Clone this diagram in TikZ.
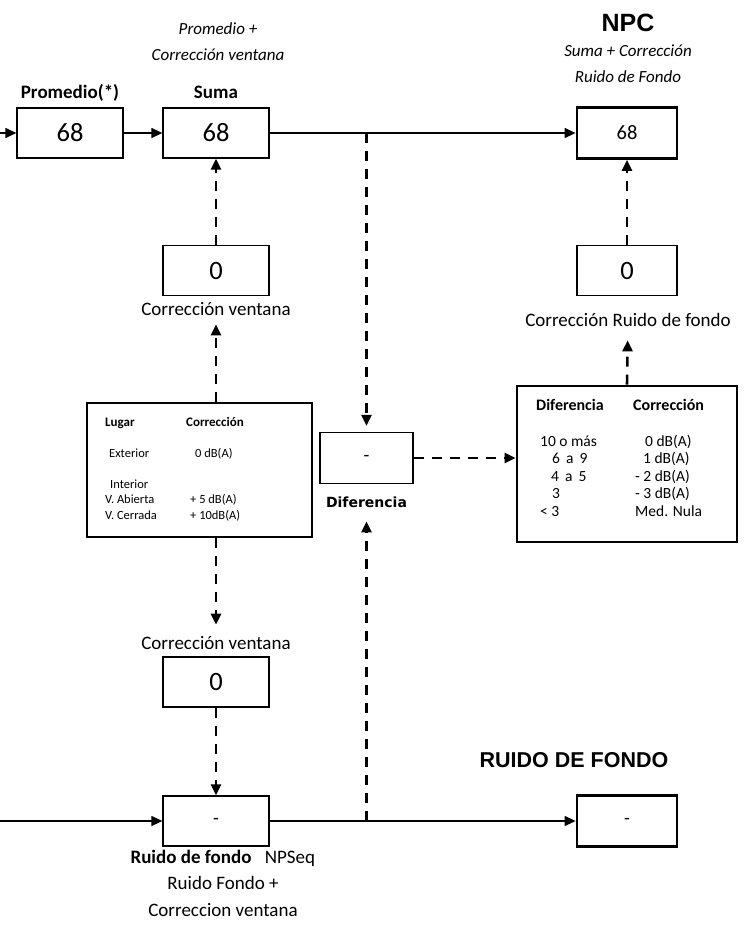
\documentclass[tikz,border=0pt]{standalone}
\usepackage{fontspec}
\setmainfont{Carlito}
\newfontfamily\arialfont{Liberation Sans}
\newfontfamily\verdanafont{DejaVu Sans}
\usetikzlibrary{positioning, arrows.meta}

\begin{document}
\begin{tikzpicture}[
        x=1pt, y=-1pt,
        font=\fontsize{19}{22}\selectfont,
        caja/.style={rectangle, draw, line width=1.3pt, minimum width=106pt, minimum height=50pt, inner sep=0pt, font=\fontsize{26.5}{28}\selectfont},
        cajag/.style={caja, line width=2.8pt, minimum width=100pt, minimum height=51pt, font=\fontsize{20.5}{24}\selectfont},
        tabla/.style={rectangle, draw, line width=2.8pt, inner sep=0pt},
        etiq/.style={anchor=base, inner sep=1pt, font=\fontsize{19}{22}\selectfont},
        titulo/.style={etiq, font=\fontsize{19}{22}\selectfont\bfseries},
        nota/.style={anchor=base, inner sep=1pt, align=center, font=\fontsize{17}{26.5}\selectfont\itshape},
        grande/.style={anchor=base, inner sep=1pt, font=\arialfont\bfseries\fontsize{25}{28}\selectfont},
        celda/.style={anchor=base west, inner sep=0pt, font=\fontsize{12.5}{14}\selectfont},
        celdab/.style={celda, font=\fontsize{13}{14}\selectfont\bfseries},
        fila/.style={anchor=base west, inner sep=0pt, font=\fontsize{15.5}{17}\selectfont},
        filab/.style={fila, font=\fontsize{16}{17}\selectfont\bfseries},
        flecha/.style={-{Triangle[length=11pt, width=10pt]}, line width=1.3pt},
        flechad/.style={flecha, line width=2.6pt, dash pattern=on 10pt off 8pt}
    ]

    \useasboundingbox (0,0) rectangle (744,925);

    % fila superior
    \coordinate (entradaA) at (0,133);
    \node (prom) [caja] at (70,133) {68};
    \node (suma) [caja] at (216,133) {68};
    \node (npc) [cajag] at (627,133) {68};
    \node (promT) [titulo] at (70,99) {Promedio(*)};
    \node (sumaT) [titulo] at (216,99) {Suma};
    \node (sumaN) [nota] at (218,61) {Promedio +\\Corrección ventana};
    \node (npcT) [grande] at (628,32) {NPC};
    \node (npcN) [nota] at (628,83) {Suma + Corrección\\Ruido de Fondo};

    % correcciones
    \node (cv1) [caja] at (216,270.5) {0};
    \node (cv1l) [etiq] at (216,315) {Corrección ventana};
    \node (crf) [caja, minimum width=100pt] at (627,270.5) {0};
    \node (crfl) [etiq] at (628,326) {Corrección Ruido de fondo};

    % tabla lugar
    \node (tlugar) [tabla, minimum width=225pt, minimum height=134pt] at (199.5,470) {};
    \node (lugH) [celdab] at (105,426) {Lugar};
    \node (corH) [celdab] at (186,426) {Corrección};
    \node (lugE) [celda] at (109,457) {Exterior};
    \node (corE) [celda] at (195,457) {0 dB(A)};
    \node (lugI) [celda] at (110,488) {Interior};
    \node (lugA) [celda] at (105,503) {V. Abierta};
    \node (corA) [celda] at (190,503) {+ 5 dB(A)};
    \node (lugC) [celda] at (105,519) {V. Cerrada};
    \node (corC) [celda] at (190,519) {+ 10dB(A)};

    % diferencia
    \node (dif) [caja, minimum width=93pt, minimum height=51pt, font=\fontsize{19}{22}\selectfont] at (366.5,458) {-};
    \node (difl) [anchor=base, inner sep=1pt, font=\verdanafont\bfseries\fontsize{14}{16}\selectfont] at (366.5,507) {Diferencia};

    % tabla diferencia
    \node (tdif) [tabla, minimum width=220pt, minimum height=156pt] at (627,464) {};
    \node (difH) [filab] at (536,410) {Diferencia};
    \node (cdfH) [filab] at (633,410) {Corrección};
    \node (d1) [fila] at (540,446) {10 o más};
    \node (c1) [fila] at (645,446) {0 dB(A)};
    \node (d2) [fila] at (552,463.5) {6\, a\, 9};
    \node (c2) [fila] at (643,463.5) {1 dB(A)};
    \node (d3) [fila] at (551,481) {4\, a\, 5};
    \node (c3) [fila] at (635,481) {- 2 dB(A)};
    \node (d4) [fila] at (552,498.5) {3};
    \node (c4) [fila] at (635,498.5) {- 3 dB(A)};
    \node (d5) [fila] at (540,516) {< 3};
    \node (c5) [fila] at (635,516) {Med. Nula};

    % fila inferior
    \coordinate (entradaB) at (0,821);
    \node (cv2l) [etiq] at (216,649) {Corrección ventana};
    \node (cv2) [caja] at (216,682) {0};
    \node (rf) [caja, font=\fontsize{19}{22}\selectfont] at (216,821) {-};
    \node (rfT) [titulo] at (191,863) {Ruido de fondo};
    \node (rfS) [etiq] at (290,863) {NPSeq};
    \node (rfN) [etiq, align=center, font=\fontsize{19}{26.5}\selectfont] at (223,916) {Ruido Fondo +\\Correccion ventana};
    \node (rfondo) [cajag, font=\fontsize{19}{22}\selectfont] at (627,821) {-};
    \node (rfondoT) [grande, font=\arialfont\bfseries\fontsize{21.5}{24}\selectfont] at (574,767) {RUIDO DE FONDO};

    \draw [flecha] (entradaA) -- (prom);
    \draw [flecha] (prom) -- (suma);
    \draw [flecha] (suma) -- (npc);
    \draw [flechad] (cv1) -- (suma);
    \draw [flechad, shorten >=8pt] (tlugar.north -| cv1) -- (cv1l);
    \draw [flechad, shorten >=10pt] (tlugar.south -| cv2) -- (cv2l);
    \draw [flechad] (cv2) -- (rf);
    \draw [flecha] (entradaB) -- (rf);
    \draw [flecha] (rf) -- (rfondo);
    \draw [flechad, shorten >=6pt] (suma.east -| dif) -- (dif);
    \draw [flechad, shorten >=13pt] (rf.east -| dif) -- (difl);
    \draw [flechad] (dif) -- (dif -| tdif.west);
    \draw [flechad, shorten >=13pt] (tdif.north -| crf) -- (crfl);
    \draw [flechad] (crf) -- (npc);

\end{tikzpicture}
\end{document}
